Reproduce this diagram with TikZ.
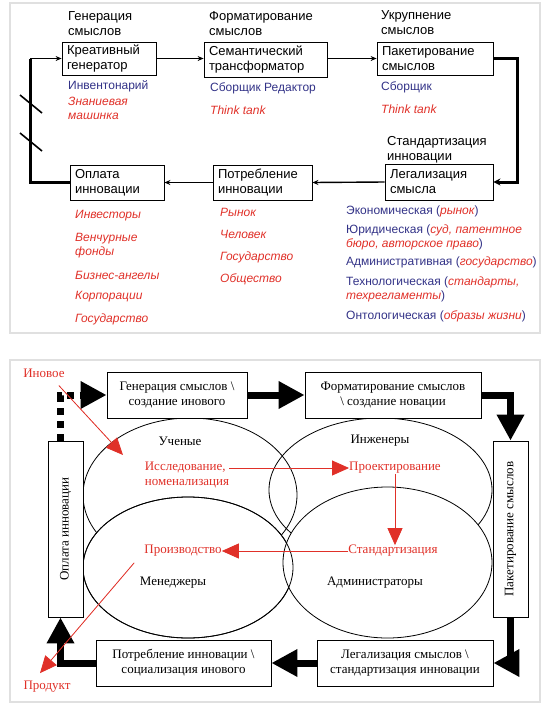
\documentclass[tikz,border=0pt]{standalone}
\usepackage{fontspec}
\setmainfont{Liberation Serif}
\newfontfamily\arialf{Liberation Sans}
\usetikzlibrary{arrows.meta,shapes.geometric}
\definecolor{redtxt}{RGB}{224,48,40}
\definecolor{bluetxt}{RGB}{50,50,135}
\newcommand{\rd}[1]{\textcolor{redtxt}{\itshape #1}}

\begin{document}
\begin{tikzpicture}[x=1pt, y=-1pt]
    % styles
    \tikzstyle{box}=[draw, line width=0.8pt, font=\arialf\fontsize{13}{15}\selectfont, align=left, inner xsep=5pt, inner ysep=1pt]
    \tikzstyle{title}=[anchor=west, inner sep=0pt, font=\arialf\fontsize{13}{15}\selectfont, align=left]
    \tikzstyle{item}=[anchor=west, inner sep=0pt, font=\arialf\fontsize{12}{14}\selectfont, align=left, text=bluetxt]
    \tikzstyle{ritem}=[item, text=redtxt, font=\arialf\itshape\fontsize{12}{14}\selectfont]
    \tikzstyle{thinarrow}=[line width=1.4pt, -{Stealth[length=6pt,width=5pt]}]
    \tikzstyle{thickline}=[line width=3pt]
    \tikzstyle{bbox}=[draw, line width=0.8pt, fill=white, font=\fontsize{13}{15}\selectfont, align=center, inner sep=2pt]
    \tikzstyle{bigarrow}=[line width=7pt, -{Triangle[length=26pt,width=26pt]}]
    \tikzstyle{oval}=[ellipse, draw, line width=0.8pt, inner sep=0pt]
    \tikzstyle{label}=[inner sep=0pt, font=\fontsize{13}{15}\selectfont]
    \tikzstyle{rlabel}=[label, text=redtxt, align=left]
    \tikzstyle{redarrow}=[draw=redtxt, fill=redtxt, line width=0.8pt, -{Triangle[length=17pt,width=15pt]}]

    \useasboundingbox (0,0) rectangle (547,705);

    % panels
    \draw[black!12, line width=1.2pt] (10,3) rectangle (540,333);
    \draw[black!12, line width=1.2pt] (10,360) rectangle (540,702);

    % ---- top panel: boxes
    \node[box, text width=84pt, minimum height=33pt] (kreat) at (109,58.5) {Креативный\\генератор};
    \node[box, text width=113pt, minimum height=35pt] (semant) at (265.5,59.5) {Семантический\\трансформатор};
    \node[box, text width=106pt, minimum height=33pt] (paket) at (435,58.5) {Пакетирование\\смыслов};
    \node[box, text width=98pt, minimum height=36pt] (legal) at (439,182) {Легализация\\смысла};
    \node[box, text width=89pt, minimum height=35pt] (potreb) at (262.5,182.5) {Потребление\\инновации};
    \node[box, text width=84pt, minimum height=35pt] (oplata) at (117,182.5) {Оплата\\инновации};

    % titles
    \node[title] (gentit) at (68,23.5) {Генерация\\смыслов};
    \node[title] (formtit) at (209,24) {Форматирование\\смыслов};
    \node[title] (ukrtit) at (381,22.5) {Укрупнение\\смыслов};
    \node[title] (standtit) at (387,149.5) {Стандартизация\\инновации};

    % lists
    \node[item] (invent) at (68,86) {Инвентонарий};
    \node[ritem] (znan) at (68,108.5) {Знаниевая\\машинка};
    \node[item] (sborred) at (210,88) {Сборщик Редактор};
    \node[ritem] (think1) at (210,110) {Think tank};
    \node[item] (sbor) at (381,87) {Сборщик};
    \node[ritem] (think2) at (381,109) {Think tank};

    \node[ritem] (invest) at (75,216) {Инвесторы};
    \node[ritem] (venchur) at (75,245.5) {Венчурные\\фонды};
    \node[ritem] (biznes) at (75,275) {Бизнес-ангелы};
    \node[ritem] (korp) at (75,297) {Корпорации};
    \node[ritem] (gosa) at (75,319) {Государство};

    \node[ritem] (rynok) at (220,212) {Рынок};
    \node[ritem] (chel) at (220,234.5) {Человек};
    \node[ritem] (gosb) at (220,257) {Государство};
    \node[ritem] (obsh) at (220,279) {Общество};

    \node[item] (econ) at (346,211) {Экономическая (\rd{рынок})};
    \node[item] (jurid) at (346,237) {Юридическая (\rd{суд, патентное}\\\rd{бюро, авторское право})};
    \node[item] (admin) at (346,262) {Административная (\rd{государство})};
    \node[item] (tehn) at (346,289) {Технологическая (\rd{стандарты,}\\\rd{техрегламенты})};
    \node[item] (ontol) at (346,316) {Онтологическая (\rd{образы жизни})};

    % arrows
    \coordinate (loopl) at (30,58.5);
    \draw[thinarrow] (kreat.east) -- (kreat.east -| semant.west);
    \draw[thinarrow] (kreat.east -| semant.east) -- (paket.west);
    \draw[thickline, -{Stealth[length=7pt,width=7pt]}] (paket.east) -- ++(24,0) |- (legal.east);
    \draw[thinarrow] (legal.west) -- (potreb.east);
    \draw[thinarrow] (potreb.west) -- (oplata.east);
    \draw[thickline] (oplata.west) -| (loopl);
    \draw[thinarrow] (loopl) -- (kreat.west);
    \draw[line width=1.6pt] (20,95) -- (42,113);
    \draw[line width=1.6pt] (20,133) -- (42,151);

    % ---- bottom panel: ellipses
    \node[oval, minimum width=214pt, minimum height=154pt] (uch) at (190,495) {};
    \node[oval, minimum width=223pt, minimum height=144pt] (inzh) at (380.5,490) {};
    \node[oval, fill=white, minimum width=210pt, minimum height=141pt] (men) at (188,567.5) {};
    \node[oval, fill=white, minimum width=209pt, minimum height=151pt] (adm) at (387.5,562.5) {};
    \draw[line width=0.8pt] (men.center) ellipse [x radius=105, y radius=70.5];

    \node[label] (uchl) at (180,441) {Ученые};
    \node[label] (inzhl) at (380,441) {Инженеры};
    \node[label] (menl) at (173,583) {Менеджеры};
    \node[label] (adml) at (375,583) {Администраторы};

    \node[rlabel] (issl) at (187,475) {Исследование,\\номенализация};
    \node[rlabel] (proekt) at (395,468) {Проектирование};
    \node[rlabel] (stand) at (393,551) {Стандартизация};
    \node[rlabel] (proizv) at (183,551) {Производство};
    \node[rlabel] (inov) at (44,373) {Иновое};
    \node[rlabel] (produkt) at (47,687) {Продукт};

    % boxes
    \node[bbox, minimum width=140pt, minimum height=46pt] (gen) at (177,395) {Генерация смыслов \textbackslash\\создание инового};
    \node[bbox, minimum width=176pt, minimum height=46pt] (form) at (393,395) {Форматирование смыслов\\\textbackslash{} создание новации};
    \node[bbox, rotate=90, minimum width=176pt, minimum height=35pt] (paketb) at (510.5,529) {Пакетирование смыслов};
    \node[bbox, minimum width=176pt, minimum height=46pt] (legalb) at (405,663) {Легализация смыслов \textbackslash\\стандартизация инновации};
    \node[bbox, minimum width=175pt, minimum height=46pt] (potrebb) at (183.5,663) {Потребление инновации \textbackslash\\социализация инового};
    \node[bbox, rotate=90, minimum width=176pt, minimum height=35pt] (oplatab) at (65.5,529) {Оплата инновации};

    % thick cycle
    \draw[bigarrow, dash pattern=on 7pt off 6pt] ([xshift=-5pt]oplatab.east) |- (gen.west);
    \draw[bigarrow] (gen.east) -- (form.west);
    \draw[bigarrow] (form.east) -| (paketb.east);
    \draw[bigarrow] (paketb.west) |- (legalb.east);
    \draw[bigarrow] (legalb.west) -- (potrebb.east);
    \draw[bigarrow] (potrebb.west) -| ([xshift=-5pt]oplatab.west);

    % red arrows
    \coordinate (inovtip) at (123,455);
    \draw[redarrow] ([xshift=-6pt,yshift=-8pt]inov.south east) -- (inovtip);
    \draw[redarrow] (proekt.west -| issl.east) -- (proekt.west);
    \draw[redarrow] (proekt.south) -- (proekt.south |- stand.north);
    \draw[redarrow] (stand.west) -- (proizv.east);
    \draw[redarrow] ([xshift=-10pt,yshift=-6pt]proizv.south west) -- ([xshift=-7pt,yshift=8pt]produkt.north);
\end{tikzpicture}
\end{document}
